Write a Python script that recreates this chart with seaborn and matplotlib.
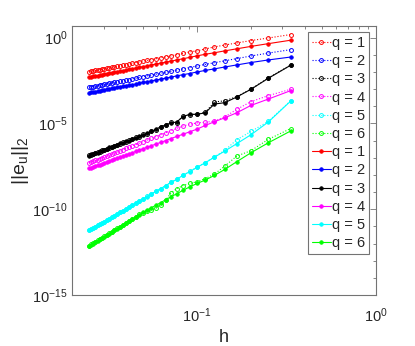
import numpy as np
import matplotlib
matplotlib.use('Agg')
import matplotlib.pyplot as plt
from matplotlib.ticker import NullFormatter, LogFormatterMathtext
import seaborn as sns

# number of elements N, mesh size h = 1/N
n_elems = list(range(3, 41))

# log10 of ||e_u||_2, one entry per N = 3..40
# dotted (open circles)
log_err_dotted = {
    1: [0.18, -0.02, -0.17, -0.31, -0.43, -0.54, -0.66, -0.77, -0.83, -0.92,
        -0.99, -1.06, -1.12, -1.17, -1.23, -1.28, -1.33, -1.37, -1.41, -1.45,
        -1.49, -1.53, -1.57, -1.60, -1.63, -1.67, -1.70, -1.73, -1.76, -1.78,
        -1.81, -1.84, -1.86, -1.89, -1.91, -1.94, -1.96, -1.98],
    2: [-0.70, -0.90, -1.07, -1.22, -1.35, -1.46, -1.56, -1.65, -1.74, -1.82,
        -1.89, -1.96, -2.02, -2.08, -2.13, -2.18, -2.23, -2.27, -2.32, -2.36,
        -2.40, -2.44, -2.47, -2.51, -2.54, -2.57, -2.60, -2.63, -2.66, -2.69,
        -2.72, -2.74, -2.77, -2.80, -2.82, -2.85, -2.87, -2.89],
    3: [-1.60, -2.35, -3.00, -3.44, -3.68, -3.75, -4.36, -4.45, -4.50, -4.58,
        -4.95, -4.94, -5.12, -5.18, -5.37, -5.44, -5.60, -5.64, -5.77, -5.81,
        -5.93, -5.96, -6.08, -6.10, -6.20, -6.23, -6.33, -6.35, -6.44, -6.47,
        -6.55, -6.57, -6.65, -6.67, -6.74, -6.76, -6.83, -6.86],
    4: [-3.01, -3.38, -3.73, -4.18, -4.62, -4.87, -4.93, -4.97, -5.05, -5.15,
        -5.29, -5.43, -5.55, -5.66, -5.77, -5.87, -5.97, -6.06, -6.15, -6.23,
        -6.31, -6.39, -6.46, -6.53, -6.60, -6.66, -6.72, -6.79, -6.84, -6.90,
        -6.96, -7.01, -7.06, -7.11, -7.16, -7.21, -7.25, -7.30],
    5: [-3.67, -4.88, -5.47, -5.95, -6.57, -6.95, -7.28, -7.55, -7.80, -8.03,
        -8.25, -8.44, -8.63, -8.80, -8.96, -9.11, -9.25, -9.39, -9.52, -9.64,
        -9.76, -9.87, -9.98, -10.08, -10.18, -10.28, -10.37, -10.46, -10.55, -10.63,
        -10.72, -10.79, -10.87, -10.94, -11.01, -11.09, -11.15, -11.22],
    6: [-5.30, -5.93, -6.59, -6.90, -7.49, -7.95, -8.22, -8.40, -8.50, -8.62,
        -8.80, -9.05, -9.48, -9.75, -9.95, -10.05, -10.10, -10.20, -10.30, -10.43,
        -10.56, -10.68, -10.79, -10.90, -11.01, -11.11, -11.21, -11.31, -11.40, -11.49,
        -11.58, -11.66, -11.74, -11.82, -11.90, -11.98, -12.05, -12.12],
}
# solid (filled circles)
log_err_solid = {
    1: [-0.15, -0.35, -0.51, -0.65, -0.77, -0.88, -0.97, -1.06, -1.15, -1.23,
        -1.30, -1.37, -1.43, -1.49, -1.54, -1.59, -1.64, -1.69, -1.73, -1.77,
        -1.81, -1.85, -1.89, -1.92, -1.95, -1.99, -2.02, -2.05, -2.08, -2.11,
        -2.14, -2.16, -2.19, -2.21, -2.24, -2.26, -2.29, -2.31],
    2: [-1.13, -1.30, -1.45, -1.59, -1.71, -1.82, -1.91, -2.00, -2.09, -2.16,
        -2.23, -2.30, -2.36, -2.42, -2.47, -2.52, -2.57, -2.61, -2.66, -2.70,
        -2.74, -2.77, -2.80, -2.84, -2.87, -2.90, -2.93, -2.96, -2.99, -3.02,
        -3.05, -3.07, -3.10, -3.13, -3.15, -3.17, -3.19, -3.21],
    3: [-1.61, -2.37, -3.01, -3.46, -3.79, -3.87, -4.38, -4.47, -4.47, -4.60,
        -4.92, -4.97, -5.09, -5.20, -5.34, -5.46, -5.55, -5.70, -5.72, -5.86,
        -5.88, -6.02, -6.03, -6.15, -6.16, -6.28, -6.29, -6.40, -6.40, -6.50,
        -6.52, -6.61, -6.62, -6.70, -6.72, -6.79, -6.80, -6.88],
    4: [-3.09, -3.58, -3.95, -4.38, -4.67, -4.90, -5.12, -5.33, -5.49, -5.63,
        -5.76, -5.88, -6.00, -6.11, -6.20, -6.30, -6.39, -6.47, -6.55, -6.63,
        -6.71, -6.77, -6.84, -6.91, -6.97, -7.03, -7.09, -7.14, -7.20, -7.25,
        -7.30, -7.35, -7.40, -7.44, -7.49, -7.53, -7.58, -7.62],
    5: [-3.70, -4.92, -5.66, -6.18, -6.61, -6.97, -7.29, -7.56, -7.81, -8.03,
        -8.26, -8.44, -8.63, -8.81, -8.96, -9.11, -9.26, -9.39, -9.52, -9.65,
        -9.76, -9.87, -9.98, -10.09, -10.18, -10.28, -10.38, -10.46, -10.55, -10.64,
        -10.72, -10.80, -10.87, -10.94, -11.02, -11.09, -11.15, -11.22],
    6: [-5.44, -6.13, -6.71, -7.23, -7.68, -8.03, -8.30, -8.50, -8.70, -8.90,
        -9.10, -9.28, -9.45, -9.62, -9.77, -9.91, -10.05, -10.18, -10.32, -10.45,
        -10.58, -10.69, -10.81, -10.92, -11.03, -11.13, -11.23, -11.33, -11.42, -11.51,
        -11.60, -11.68, -11.76, -11.84, -11.92, -12.00, -12.07, -12.14],
}
q_colors = {1: 'red', 2: 'blue', 3: 'black', 4: 'magenta', 5: 'cyan', 6: 'lime'}

sns.set_style('white')
plt.rcParams['font.family'] = ['Liberation Sans', 'DejaVu Sans']
plt.rcParams['mathtext.default'] = 'regular'

fig = plt.figure(figsize=(4.15, 3.46), dpi=100)
ax = fig.add_axes([0.1735, 0.1474, 0.7325, 0.7775])

h = 1.0 / np.array(n_elems)
for q, vals in log_err_dotted.items():
    sns.lineplot(x=h, y=10.0 ** np.array(vals), ax=ax, color=q_colors[q],
                 linestyle=':', linewidth=0.8, marker='o', markersize=2.8,
                 markerfacecolor='none', markeredgecolor=q_colors[q],
                 markeredgewidth=0.7, label=f'q = {q}')
for q, vals in log_err_solid.items():
    sns.lineplot(x=h, y=10.0 ** np.array(vals), ax=ax, color=q_colors[q],
                 linestyle='-', linewidth=0.8, marker='o', markersize=2.6,
                 markerfacecolor=q_colors[q], markeredgecolor=q_colors[q],
                 markeredgewidth=0.5, label=f'q = {q}')

ax.set_xscale('log')
ax.set_yscale('log')
ax.set_xlim(0.02, 1.0)
ax.set_ylim(1e-15, 10 ** 0.68)

ax.set_xticks([0.1, 1.0])
ax.set_xticks([k * 0.01 for k in range(2, 10)] + [k * 0.1 for k in range(2, 10)], minor=True)
ax.set_yticks([1e-15, 1e-10, 1e-5, 1e0])
ax.set_yticks([10.0 ** k for k in range(-15, 1) if k % 5 != 0], minor=True)
ax.xaxis.set_major_formatter(LogFormatterMathtext())
ax.yaxis.set_major_formatter(LogFormatterMathtext())
ax.xaxis.set_minor_formatter(NullFormatter())
ax.yaxis.set_minor_formatter(NullFormatter())

axis_gray = '0.45'
for sp in ax.spines.values():
    sp.set_visible(True)
    sp.set_color(axis_gray)
    sp.set_linewidth(0.8)
ax.tick_params(which='both', direction='in', top=True, right=True,
               color=axis_gray, width=0.6, labelsize=10.5, labelcolor='0.15')
ax.tick_params(which='major', length=4, pad=3)
ax.tick_params(axis='x', which='major', pad=8)
ax.tick_params(which='minor', length=2.2)

ax.set_xlabel('h', fontsize=13, color='0.15', labelpad=3)
ax.set_ylabel(r'$||e_u||_2$', fontsize=14, color='0.15', labelpad=1)

leg = ax.legend(loc='upper right', bbox_to_anchor=(0.977, 0.977),
                borderaxespad=0, fontsize=10.5, labelspacing=0.29,
                handlelength=1.3, handletextpad=0.1, borderpad=0.25,
                fancybox=False, framealpha=1, edgecolor=axis_gray)
leg.get_frame().set_linewidth(0.8)

fig.savefig('out.png', dpi=100)
